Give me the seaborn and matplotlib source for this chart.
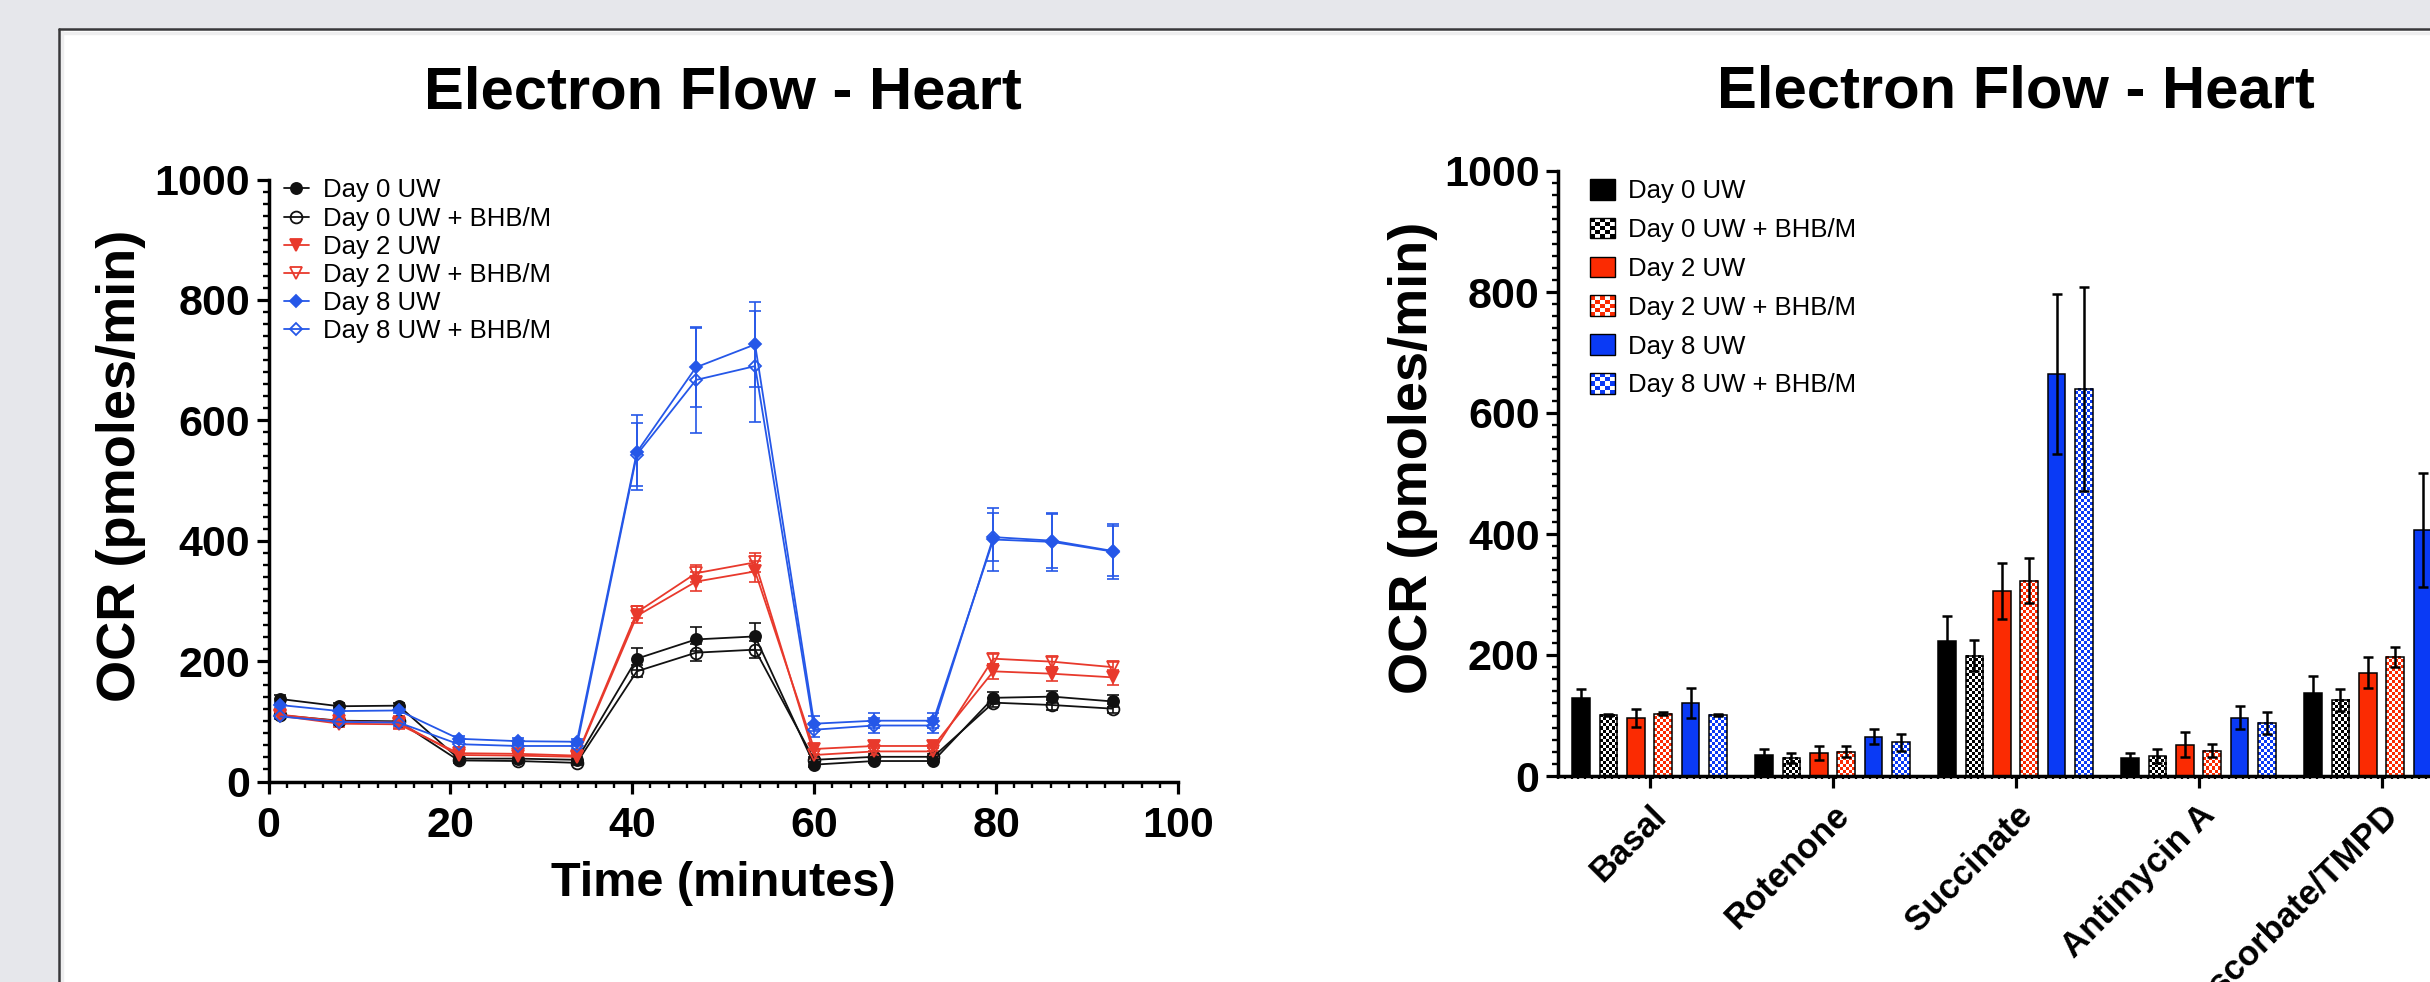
import numpy as np
import pandas as pd
import matplotlib
matplotlib.use("Agg")
import matplotlib.pyplot as plt
import seaborn as sns
from matplotlib.patches import Rectangle, Patch
from matplotlib.lines import Line2D
from matplotlib.colors import ListedColormap
from matplotlib.ticker import MultipleLocator, FixedLocator
from matplotlib.legend_handler import HandlerBase
from matplotlib.container import BarContainer

# ---------------- data: time course (left) ----------------
time_min = [1.3, 7.8, 14.3, 20.9, 27.4, 33.9, 40.5, 47.0, 53.5, 60.0, 66.6, 73.1, 79.7, 86.2, 92.8]
series_names = ["Day 0 UW", "Day 0 UW + BHB/M", "Day 2 UW", "Day 2 UW + BHB/M",
                "Day 8 UW", "Day 8 UW + BHB/M"]

day0_uw = [137, 125, 126, 38, 38, 36, 204, 236, 241, 28, 34, 34, 139, 141, 133]
day0_uw_err = [6, 5, 5, 4, 4, 4, 18, 20, 22, 4, 4, 4, 10, 10, 10]
day0_bhb = [110, 101, 100, 35, 34, 31, 183, 214, 219, 36, 41, 41, 131, 127, 121]
day0_bhb_err = [6, 5, 5, 4, 4, 4, 10, 14, 14, 4, 4, 4, 8, 8, 8]
day2_uw = [111, 100, 98, 44, 43, 41, 275, 332, 349, 54, 59, 59, 183, 179, 173]
day2_uw_err = [8, 6, 10, 4, 4, 4, 12, 16, 18, 8, 8, 8, 12, 12, 12]
day2_bhb = [109, 96, 95, 47, 46, 43, 281, 346, 364, 44, 50, 50, 204, 199, 190]
day2_bhb_err = [6, 5, 6, 4, 4, 4, 10, 14, 16, 6, 6, 6, 8, 8, 8]
day8_uw = [127, 117, 118, 71, 67, 66, 547, 688, 726, 96, 101, 101, 402, 398, 382]
day8_uw_err = [5, 5, 5, 5, 5, 5, 62, 66, 70, 12, 12, 12, 52, 48, 46]
day8_bhb = [108, 99, 98, 62, 59, 59, 543, 667, 690, 86, 93, 93, 406, 400, 383]
day8_bhb_err = [5, 5, 5, 5, 5, 5, 52, 88, 92, 12, 12, 12, 40, 45, 42]

# ---------------- data: bar chart (right) ----------------
categories = ["Basal", "Rotenone", "Succinate", "Antimycin A", "Ascorbate/TMPD"]
bar_day0_uw = [129, 34, 223, 29, 137]
bar_day0_uw_err = [15, 11, 41, 9, 28]
bar_day0_bhb = [101, 30, 199, 33, 126]
bar_day0_bhb_err = [2, 8, 26, 12, 18]
bar_day2_uw = [96, 38, 306, 52, 171]
bar_day2_uw_err = [15, 12, 46, 20, 25]
bar_day2_bhb = [103, 40, 323, 42, 197]
bar_day2_bhb_err = [2, 9, 37, 11, 17]
bar_day8_uw = [121, 65, 664, 96, 407]
bar_day8_uw_err = [25, 12, 132, 19, 94]
bar_day8_bhb = [101, 56, 640, 88, 395]
bar_day8_bhb_err = [2, 14, 169, 18, 60]

# ---------------- style ----------------
sns.set_style("ticks")
plt.rcParams["font.family"] = ["Liberation Sans", "DejaVu Sans"]
plt.rcParams.update({
    "axes.edgecolor": "black", "xtick.color": "black", "ytick.color": "black",
    "text.color": "black", "axes.labelcolor": "black",
})

W, H = 2430, 982
fig = plt.figure(figsize=(W / 100, H / 100), dpi=100)
fig.patch.set_facecolor("#e6e7eb")

# white slide panel with dark border on top / left
pl = 59 / W
pt = 1 - 29 / H
fig.add_artist(Rectangle((pl, 0), 1.0, pt, transform=fig.transFigure,
                         facecolor="white", edgecolor="none", zorder=-10))
fig.add_artist(Line2D([pl + 3.5 / W, pl + 3.5 / W], [0, pt - 3 / H], transform=fig.transFigure,
                      color="#eeeeef", lw=2.5, zorder=-9))
fig.add_artist(Line2D([pl, 1], [pt - 3.5 / H, pt - 3.5 / H], transform=fig.transFigure,
                      color="#eeeeef", lw=2.5, zorder=-9))
fig.add_artist(Line2D([pl, pl], [0, pt], transform=fig.transFigure,
                      color="#38383a", lw=1.8, zorder=-8))
fig.add_artist(Line2D([pl, 1], [pt, pt], transform=fig.transFigure,
                      color="#38383a", lw=1.8, zorder=-8))

line_colors = ["#111111", "#111111", "#e8392c", "#e8392c", "#2557e8", "#2557e8"]
bar_colors = ["#000000", "#000000", "#fb2b02", "#fb2b02", "#0a3af5", "#0a3af5"]
markers = ["o", "o", "v", "v", "D", "D"]
msizes = [8, 8.5, 8.5, 9, 6, 6.5]
filled = [True, False, True, False, True, False]


def style_axis(ax):
    for s in ["top", "right"]:
        ax.spines[s].set_visible(False)
    for s in ["left", "bottom"]:
        ax.spines[s].set_linewidth(2.5)
        ax.spines[s].set_color("black")
    ax.set_facecolor("none")
    ax.tick_params(which="major", direction="out", length=8.3, width=2.3, labelsize=31)
    ax.tick_params(which="minor", direction="out", length=4.3, width=1.7)
    ax.tick_params(axis="y", pad=5)
    ax.yaxis.set_major_locator(MultipleLocator(200))
    ax.yaxis.set_minor_locator(MultipleLocator(20))


# ================= left: line chart =================
L_top, L_bot = 179.5, 781.5
ax1 = fig.add_axes([268.5 / W, (H - L_bot) / H, 909.5 / W, (L_bot - L_top) / H])
line_vals = [day0_uw, day0_bhb, day2_uw, day2_bhb, day8_uw, day8_bhb]
line_errs = [day0_uw_err, day0_bhb_err, day2_uw_err, day2_bhb_err, day8_uw_err, day8_bhb_err]
for name, vals, errs, c, m, ms, f in zip(series_names, line_vals, line_errs,
                                          line_colors, markers, msizes, filled):
    sns.lineplot(x=time_min, y=vals, ax=ax1, color=c, marker=m, markersize=ms,
                 markerfacecolor=c if f else "none", markeredgecolor=c,
                 markeredgewidth=1.3, linewidth=1.3, label=name, zorder=3)
    ax1.errorbar(time_min, vals, yerr=errs, fmt="none", ecolor=c, elinewidth=1.2,
                 capsize=4.5, capthick=1.2, zorder=2)

ax1.set_xlim(0, 100)
ax1.set_ylim(0, 1000)
style_axis(ax1)
ax1.xaxis.set_major_locator(MultipleLocator(20))
ax1.xaxis.set_minor_locator(MultipleLocator(2))
ax1.tick_params(axis="x", pad=9)
for lab in ax1.get_xticklabels() + ax1.get_yticklabels():
    lab.set_fontweight("bold")

ax1.set_title("Electron Flow - Heart", fontsize=43, fontweight="bold", pad=51)
ax1.set_xlabel("Time (minutes)", fontsize=35, fontweight="bold")
ax1.xaxis.set_label_coords(0.5, -0.132)
ax1.set_ylabel("OCR (pmoles/min)", fontsize=39, fontweight="bold")
ax1.yaxis.set_label_coords(-0.135, 0.524)

handles = [l for l in ax1.get_lines() if l.get_label() in series_names]
ax1.legend(handles, [h.get_label() for h in handles], loc="upper left",
           bbox_to_anchor=(15 / 909.5, 1.0017), frameon=False, fontsize=18.5,
           labelspacing=0.16, handlelength=1.0, handletextpad=0.55,
           borderpad=0, borderaxespad=0)

# ================= right: bar chart =================
R_top, R_bot = 171, 776
ax2 = fig.add_axes([1558 / W, (H - R_bot) / H, 915 / W, (R_bot - R_top) / H])
bar_vals = [bar_day0_uw, bar_day0_bhb, bar_day2_uw, bar_day2_bhb, bar_day8_uw, bar_day8_bhb]
bar_errs = [bar_day0_uw_err, bar_day0_bhb_err, bar_day2_uw_err, bar_day2_bhb_err,
            bar_day8_uw_err, bar_day8_bhb_err]
rows = []
for name, vals in zip(series_names, bar_vals):
    for cat, v in zip(categories, vals):
        rows.append({"Condition": cat, "Group": name, "OCR": v})
bar_df = pd.DataFrame(rows)

sns.barplot(data=bar_df, x="Condition", y="OCR", hue="Group", order=categories,
            hue_order=series_names, palette=dict(zip(series_names, bar_colors)),
            width=0.9, gap=0.36, errorbar=None, edgecolor="black", linewidth=1.1,
            saturation=1, legend=False, ax=ax2)
ax2.set_xlim(-0.5, 4.5)
ax2.set_ylim(0, 1000)
style_axis(ax2)

# px per data unit (for checker cell size)
p0 = ax2.transData.transform((0, 0))
sx = ax2.transData.transform((1, 0))[0] - p0[0]
sy = ax2.transData.transform((0, 1))[1] - p0[1]
cell_px = 3.0

bar_conts = [c for c in ax2.containers if isinstance(c, BarContainer)]
for i, cont in enumerate(bar_conts):
    bars = list(cont.patches)
    xs = [b.get_x() + b.get_width() / 2 for b in bars]
    ax2.errorbar(xs, bar_vals[i], yerr=bar_errs[i], fmt="none", ecolor="black",
                 elinewidth=1.8, capsize=3.4, capthick=1.8, zorder=6)
    if not filled[i]:
        cmap = ListedColormap(["white", bar_colors[i]])
        for b in bars:
            x0, y0, w, h = b.get_x(), b.get_y(), b.get_width(), b.get_height()
            nc = max(1, int(round(w * sx / cell_px)))
            nr = max(1, int(round(h * sy / cell_px)))
            arr = (np.add.outer(np.arange(nr), np.arange(nc)) % 2).astype(float)
            ax2.imshow(arr, cmap=cmap, vmin=0, vmax=1, extent=(x0, x0 + w, y0, y0 + h),
                       origin="lower", interpolation="nearest", aspect="auto", zorder=2.1)
            b.set_facecolor("none")
            b.set_zorder(2.2)

ax2.set_xlim(-0.5, 4.5)
ax2.set_ylim(0, 1000)
ax2.set_xlabel("")
ax2.set_xticks(range(len(categories)))
ax2.xaxis.set_minor_locator(FixedLocator(np.arange(-0.5, 4.5, 1 / 27)))
ax2.tick_params(axis="x", which="minor", length=2.2, width=1.6)
ax2.tick_params(axis="x", which="major", labelsize=25, pad=8)
ax2.set_xticklabels(categories, rotation=45, ha="right", va="top",
                    rotation_mode="anchor", fontweight="bold", fontsize=25)
for lab in ax2.get_yticklabels():
    lab.set_fontweight("bold")

ax2.set_title("Electron Flow - Heart", fontsize=43, fontweight="bold", pad=45.4)
ax2.set_ylabel("OCR (pmoles/min)", fontsize=39, fontweight="bold")
ax2.yaxis.set_label_coords(-0.1312, 0.526)


class CheckerHandler(HandlerBase):
    def __init__(self, color, n=5):
        super().__init__()
        self.color = color
        self.n = n

    def create_artists(self, legend, orig_handle, xdescent, ydescent, width, height,
                       fontsize, trans):
        arts = []
        cw, ch = width / self.n, height / self.n
        for a in range(self.n):
            for b in range(self.n):
                fc = self.color if (a + b) % 2 == 0 else "white"
                arts.append(Rectangle((-xdescent + a * cw, -ydescent + b * ch), cw, ch,
                                      facecolor=fc, edgecolor="none", transform=trans))
        arts.append(Rectangle((-xdescent, -ydescent), width, height, facecolor="none",
                              edgecolor="black", lw=1.0, transform=trans))
        return arts


leg_handles = []
hmap = {}
for name, c, f in zip(series_names, bar_colors, filled):
    p = Patch(facecolor=c, edgecolor="black", lw=1.0, label=name)
    leg_handles.append(p)
    if not f:
        hmap[p] = CheckerHandler(c)
ax2.legend(leg_handles, series_names, handler_map=hmap, loc="upper left",
           bbox_to_anchor=(32 / 915, 0.987), frameon=False, fontsize=18.5,
           labelspacing=0.57, handlelength=0.97, handleheight=0.86,
           handletextpad=0.52, borderpad=0, borderaxespad=0)

fig.savefig("out.png", dpi=100, facecolor=fig.get_facecolor())
